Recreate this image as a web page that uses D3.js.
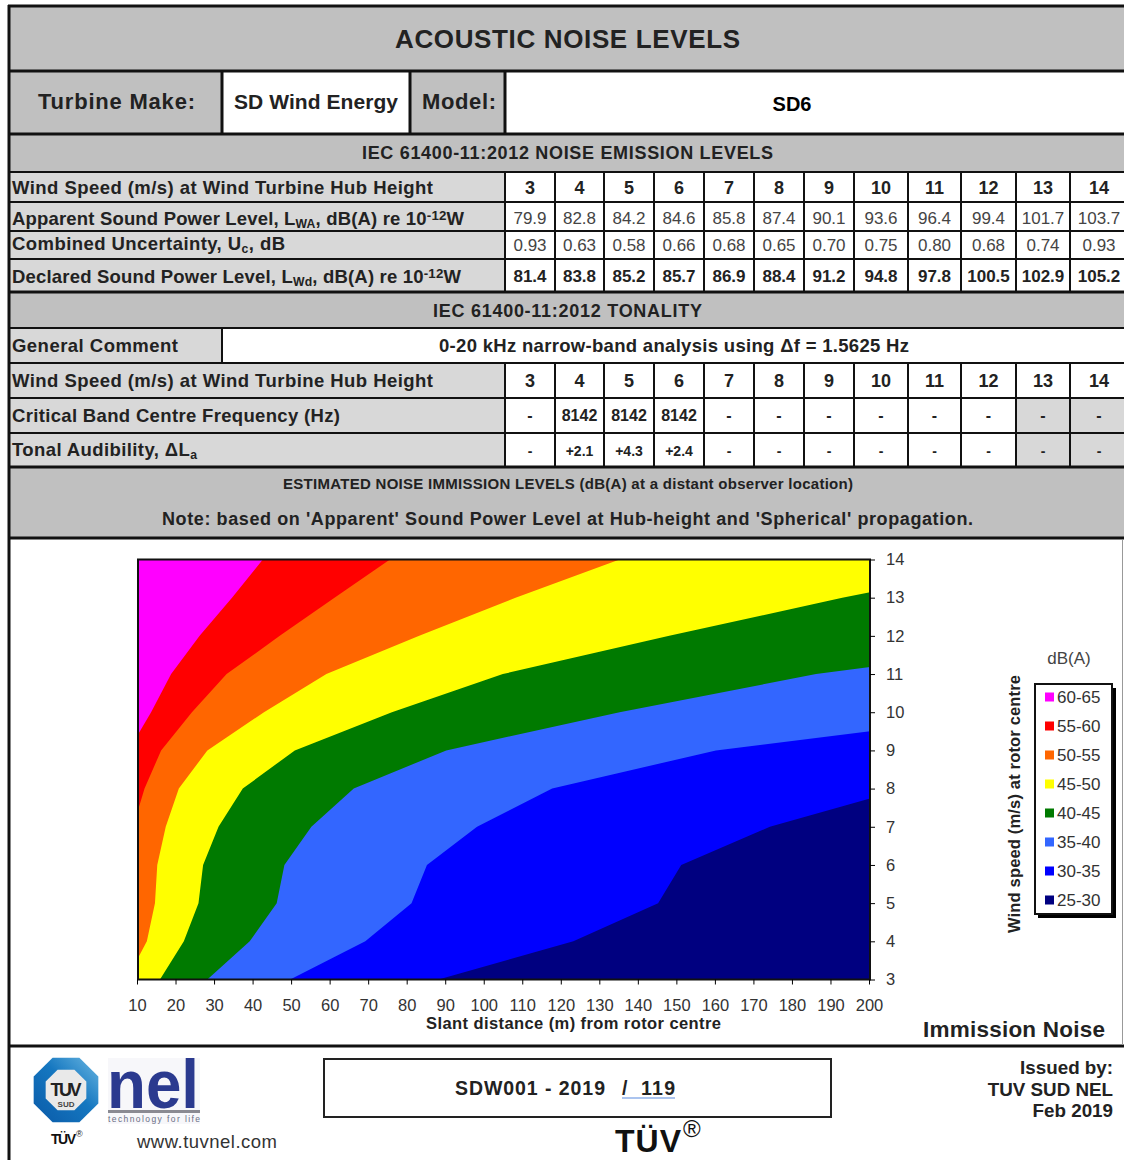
<!DOCTYPE html>
<html>
<head>
<meta charset="utf-8">
<title>Acoustic Noise Levels</title>
<script src="https://cdn.jsdelivr.net/npm/d3@7"></script>
<style>
    body { margin: 0; background: #fff; }
    svg { display: block; }
    text { font-family: "Liberation Sans", Arial, sans-serif; }
    .axis text { font-family: "Liberation Sans", Arial, sans-serif; font-size: 16.5px; fill: #333; }
</style>
</head>
<body>
<svg width="1124" height="1160"></svg>
<script>
// Table values
const windSpeeds = [3, 4, 5, 6, 7, 8, 9, 10, 11, 12, 13, 14];
const apparentLevels = ['79.9', '82.8', '84.2', '84.6', '85.8', '87.4', '90.1', '93.6', '96.4', '99.4', '101.7', '103.7'];
const uncertainties = ['0.93', '0.63', '0.58', '0.66', '0.68', '0.65', '0.70', '0.75', '0.80', '0.68', '0.74', '0.93'];
const declaredLevels = ['81.4', '83.8', '85.2', '85.7', '86.9', '88.4', '91.2', '94.8', '97.8', '100.5', '102.9', '105.2'];
const criticalFreqs = ['-', '8142', '8142', '8142', '-', '-', '-', '-', '-', '-', '-', '-'];
const tonalAudibility = ['-', '+2.1', '+4.3', '+2.4', '-', '-', '-', '-', '-', '-', '-', '-'];

// Contour chart: slant distance (m) where each level is reached, one value per wind speed
const contour30 = [88, 123, 145, 151, 174, 209, 285, 427, 589, 832, 1084, 1365];
const contour35 = [49.5, 69, 81, 85, 98, 117.5, 160, 240, 331, 468, 610, 767];
const contour40 = [28, 39, 46, 48, 55, 66, 90, 135, 186, 263, 343, 432];
const contour45 = [15.7, 21.9, 25.7, 26.9, 30.9, 37.2, 50.7, 75.9, 104.7, 147.9, 192.8, 242.7];
const contour50 = [7, 12.3, 14.4, 15, 17.2, 20.6, 28, 42.7, 58.9, 83, 108, 135];
const contour55 = [5, 6.9, 8.1, 8.5, 8.7, 11.7, 16, 24, 33, 46.8, 61, 75.4];
const contour60 = [2.8, 3.9, 4.6, 4.8, 5.5, 6.6, 7.6, 13.4, 18.6, 26, 34.4, 42.4];
const distanceTicks = [10, 20, 30, 40, 50, 60, 70, 80, 90, 100, 110, 120, 130, 140, 150, 160, 170, 180, 190, 200];

const bandLabels = ['60-65', '55-60', '50-55', '45-50', '40-45', '35-40', '30-35', '25-30'];
const bandColors = ['#ff00ff', '#ff0000', '#ff6600', '#ffff00', '#007a00', '#3366ff', '#0000ff', '#000080'];

const svg = d3.select('svg');
const headerGrey = '#c0c0c0';
const labelGrey = '#d8d8d8';

// segs is a plain string or a list of [text, 'sub' | 'sup'] pieces
function label(parent, segs, x, y, size, opts = {}) {
    const t = parent.append('text')
        .attr('x', x)
        .attr('y', y)
        .style('font-size', size + 'px')
        .style('font-weight', opts.bold === false ? 'normal' : 'bold')
        .style('text-anchor', opts.anchor || 'start')
        .attr('fill', opts.fill || '#222');
    if (opts.len) t.attr('textLength', opts.len).attr('lengthAdjust', opts.adjust || 'spacing');
    (typeof segs === 'string' ? [[segs]] : segs).forEach(s => {
        const span = t.append('tspan').text(s[0]);
        if (s[1] === 'sub') span.attr('baseline-shift', '-22%').style('font-size', size * 0.66 + 'px');
        if (s[1] === 'sup') span.attr('baseline-shift', '38%').style('font-size', size * 0.72 + 'px');
    });
    return t;
}

function box(x0, y0, x1, y1, fill) {
    svg.append('rect').attr('x', x0).attr('y', y0).attr('width', x1 - x0).attr('height', y1 - y0).attr('fill', fill);
}

function hLine(y, w, x0 = 8, x1 = 1124) {
    svg.append('line').attr('x1', x0).attr('x2', x1).attr('y1', y).attr('y2', y).attr('stroke', '#111').attr('stroke-width', w);
}

function vLine(x, y0, y1, w = 2) {
    svg.append('line').attr('x1', x).attr('x2', x).attr('y1', y0).attr('y2', y1).attr('stroke', '#111').attr('stroke-width', w);
}

// Table backgrounds
const columnEdges = [505, 555, 604, 654, 704, 754, 804, 854, 908, 961, 1016, 1070, 1128];
const columnCentre = i => (columnEdges[i] + columnEdges[i + 1]) / 2;
box(8, 7, 1124, 71, headerGrey);
box(8, 71, 222, 134, headerGrey);
box(410, 71, 505, 134, headerGrey);
box(8, 134, 1124, 172, headerGrey);
box(8, 172, 505, 292, labelGrey);
box(8, 292, 1124, 328, headerGrey);
box(8, 328, 222, 363, labelGrey);
box(8, 363, 505, 467, labelGrey);
box(8, 467, 1124, 538, headerGrey);
box(1016, 398, 1124, 467, labelGrey);

// Table rules
hLine(6, 3); hLine(71, 3); hLine(134, 3); hLine(172, 2);
[202, 231, 259, 363, 398, 433].forEach(y => hLine(y, 2));
[292, 467, 538, 1046].forEach(y => hLine(y, 3));
hLine(328, 2);
vLine(9, 5, 1160, 3);
vLine(222, 71, 134, 3); vLine(410, 71, 134, 3); vLine(505, 71, 134, 3);
vLine(222, 328, 363);
columnEdges.slice(0, 12).forEach(x => {
    vLine(x, 172, 292);
    vLine(x, 363, 467);
});
svg.append('line').attr('x1', 1122.5).attr('x2', 1122.5).attr('y1', 540).attr('y2', 1045).attr('stroke', '#999');

// Table text
label(svg, 'ACOUSTIC NOISE LEVELS', 395, 48, 26, { len: 345 });
label(svg, 'Turbine Make:', 38, 109, 22, { len: 157 });
label(svg, 'SD Wind Energy', 234, 109, 21, { len: 164 });
label(svg, 'Model:', 422, 109, 22, { len: 74 });
label(svg, 'SD6', 792, 111, 20, { anchor: 'middle', fill: '#000' });
label(svg, 'IEC 61400-11:2012 NOISE EMISSION LEVELS', 362, 159, 18, { len: 411 });
label(svg, 'Wind Speed (m/s) at Wind Turbine Hub Height', 12, 194, 18.5, { len: 421 });
label(svg, [['Apparent Sound Power Level, L'], ['WA', 'sub'], [', dB(A) re 10'], ['-12', 'sup'], ['W']], 12, 225, 18.5, { len: 452 });
label(svg, [['Combined Uncertainty, U'], ['c', 'sub'], [', dB']], 12, 250, 18.5, { len: 273 });
label(svg, [['Declared Sound Power Level, L'], ['Wd', 'sub'], [', dB(A) re 10'], ['-12', 'sup'], ['W']], 12, 283, 18.5, { len: 449 });
label(svg, 'IEC 61400-11:2012 TONALITY', 433, 317, 18, { len: 269 });
label(svg, 'General Comment', 12, 352, 18.5, { len: 166 });
label(svg, '0-20 kHz narrow-band analysis using \u0394f = 1.5625 Hz', 439, 352, 18.5, { len: 470 });
label(svg, 'Wind Speed (m/s) at Wind Turbine Hub Height', 12, 387, 18.5, { len: 421 });
label(svg, 'Critical Band Centre Frequency (Hz)', 12, 422, 18.5, { len: 328 });
label(svg, [['Tonal Audibility, \u0394L'], ['a', 'sub']], 12, 456, 18.5, { len: 185 });
label(svg, 'ESTIMATED NOISE IMMISSION LEVELS (dB(A) at a distant observer location)', 283, 489, 15, { len: 570 });
label(svg, "Note: based on 'Apparent' Sound Power Level at Hub-height and 'Spherical' propagation.", 162, 525, 18, { len: 811 });

function tableRow(values, y, size, bold, fill) {
    values.forEach((v, i) => label(svg, String(v), columnCentre(i), y, size, { anchor: 'middle', bold, fill }));
}
tableRow(windSpeeds, 194, 18, true, '#222');
tableRow(apparentLevels, 224, 17, false, '#444');
tableRow(uncertainties, 251, 17, false, '#444');
tableRow(declaredLevels, 282, 17, true, '#222');
tableRow(windSpeeds, 387, 18, true, '#222');
tableRow(criticalFreqs, 421, 16, true, '#222');
tableRow(tonalAudibility, 456, 14, true, '#222');

// Contour chart
const xScale = d3.scaleLinear().domain([10, 200]).range([138, 870]);
const yScale = d3.scaleLinear().domain([3, 14]).range([979.5, 559.5]);

svg.append('clipPath').attr('id', 'plot-clip').append('rect')
    .attr('x', xScale(10)).attr('y', yScale(14))
    .attr('width', xScale(200) - xScale(10)).attr('height', yScale(3) - yScale(14));

const plot = svg.append('g').attr('clip-path', 'url(#plot-clip)');
plot.append('rect')
    .attr('x', xScale(10)).attr('y', yScale(14))
    .attr('width', xScale(200) - xScale(10)).attr('height', yScale(3) - yScale(14))
    .attr('fill', bandColors[7]);

const contourArea = d3.area()
    .y((d, i) => yScale(windSpeeds[i]))
    .x0(xScale(10) - 60)
    .x1(d => xScale(d));
const contours = [contour30, contour35, contour40, contour45, contour50, contour55, contour60];
plot.selectAll('path')
    .data(contours)
    .join('path')
    .attr('d', contourArea)
    .attr('fill', (d, i) => bandColors[6 - i]);

svg.append('rect')
    .attr('x', xScale(10)).attr('y', yScale(14))
    .attr('width', xScale(200) - xScale(10)).attr('height', yScale(3) - yScale(14))
    .attr('fill', 'none').attr('stroke', '#111').attr('stroke-width', 2);

// Axes
const xAxis = d3.axisBottom(xScale).tickValues(distanceTicks).tickSize(5).tickPadding(15).tickFormat(d3.format('d'));
const yAxis = d3.axisRight(yScale).tickValues(windSpeeds).tickSize(5).tickPadding(11).tickFormat(d3.format('d'));
svg.append('g').attr('class', 'axis')
    .attr('transform', `translate(-1, ${yScale(3)})`)
    .call(xAxis)
    .call(g => g.select('.domain').remove());
svg.append('g').attr('class', 'axis')
    .attr('transform', `translate(${xScale(200)}, 0)`)
    .call(yAxis)
    .call(g => g.select('.domain').remove());

label(svg, 'Slant distance (m) from rotor centre', 426, 1029, 16.5, { len: 295 });
label(svg, 'Immission Noise', 923, 1037, 22.5, { len: 182 });
label(svg, 'Wind speed (m/s) at rotor centre', 0, 0, 16.5, { len: 258 })
    .attr('transform', 'translate(1020, 933) rotate(-90)');

// Legend
label(svg, 'dB(A)', 1069, 664, 17, { anchor: 'middle', bold: false, fill: '#444' });
svg.append('rect').attr('x', 1038).attr('y', 688).attr('width', 78).attr('height', 230).attr('fill', '#000');
svg.append('rect').attr('x', 1035).attr('y', 684).attr('width', 77).attr('height', 230)
    .attr('fill', '#fff').attr('stroke', '#111').attr('stroke-width', 2);

const legendScale = d3.scalePoint().domain(bandLabels).range([697, 900]);
const legendRow = svg.append('g').selectAll('g')
    .data(bandLabels)
    .join('g')
    .attr('transform', d => `translate(0, ${legendScale(d)})`);
legendRow.append('rect')
    .attr('x', 1045).attr('y', -4.5).attr('width', 9).attr('height', 9)
    .attr('fill', (d, i) => bandColors[i]);
legendRow.append('text')
    .text(d => d)
    .attr('x', 1057).attr('y', 6)
    .attr('fill', '#333')
    .style('font-size', '17px');

// Footer
svg.append('rect').attr('x', 324).attr('y', 1059).attr('width', 507).attr('height', 58)
    .attr('fill', '#fff').attr('stroke', '#222').attr('stroke-width', 2);
label(svg, 'SDW001 - 2019', 455, 1095, 19.5, { len: 150 });
label(svg, '/', 622, 1095, 19.5);
label(svg, '119', 641, 1095, 19.5, { len: 34 });
svg.append('line').attr('x1', 622).attr('x2', 675).attr('y1', 1098).attr('y2', 1098).attr('stroke', '#8fb0ea').attr('stroke-width', 1.5);
label(svg, 'Issued by:', 1113, 1074, 18.8, { anchor: 'end' });
label(svg, 'TUV SUD NEL', 1113, 1096, 18.8, { anchor: 'end' });
label(svg, 'Feb 2019', 1113, 1117, 18.8, { anchor: 'end' });
label(svg, 'www.tuvnel.com', 137, 1148, 18.5, { bold: false, fill: '#333', len: 140 });
label(svg, 'T\u00dcV', 615, 1152, 32, { fill: '#111', len: 66 });
label(svg, '\u00ae', 683, 1137, 24, { bold: false, fill: '#111' });
label(svg, 'T\u00dcV', 51, 1144, 14, { fill: '#111', len: 25 });
label(svg, '\u00ae', 76, 1137, 9, { bold: false, fill: '#111' });

// TUV SUD badge
const badge = svg.append('defs').append('linearGradient').attr('id', 'badge-blue')
    .attr('x1', 0).attr('x2', 1).attr('y1', 1).attr('y2', 0);
badge.append('stop').attr('offset', '0%').attr('stop-color', '#0a5aa8');
badge.append('stop').attr('offset', '55%').attr('stop-color', '#1577c0');
badge.append('stop').attr('offset', '100%').attr('stop-color', '#6ab7e2');
const octagon = r => d3.range(8).map(i => {
    const a = Math.PI / 8 + i * Math.PI / 4;
    return [66 + r * Math.cos(a), 1090 + r * Math.sin(a)].join(',');
}).join(' ');
svg.append('polygon').attr('points', octagon(35)).attr('fill', 'url(#badge-blue)');
svg.append('polygon').attr('points', octagon(22)).attr('fill', '#e9e9e9');
label(svg, 'TUV', 66, 1096, 18, { anchor: 'middle', fill: '#222', len: 31 });
label(svg, 'SUD', 66, 1107, 8, { anchor: 'middle', fill: '#444' });

// nel logo
box(108, 1058, 200, 1124, '#f7f7fa');
label(svg, 'nel', 107, 1108, 68, { fill: '#2b3a8f', len: 92, adjust: 'spacingAndGlyphs' });
box(108, 1110, 200, 1113, '#8a8a92');
label(svg, 'technology for life', 108, 1122, 8.5, { bold: false, fill: '#6a6f85', len: 92 });
</script>
</body>
</html>
